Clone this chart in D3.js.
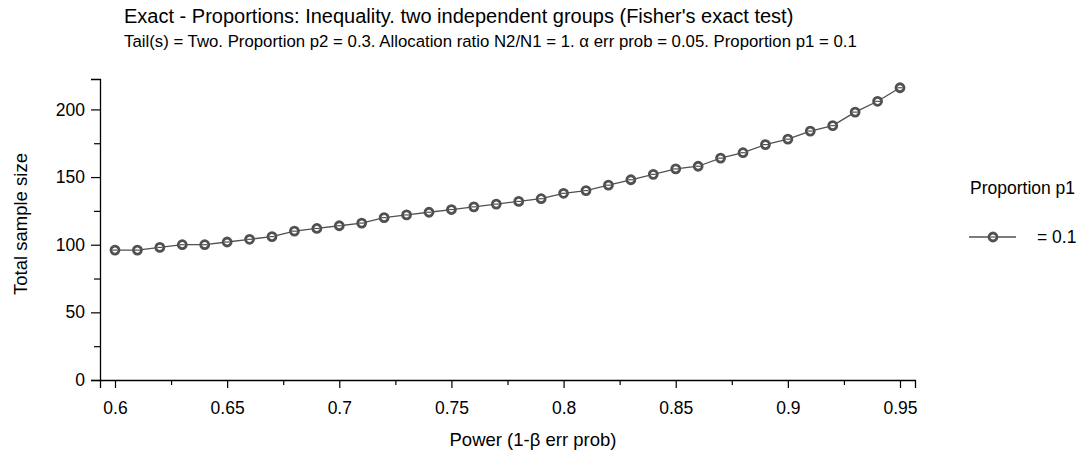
<!DOCTYPE html>
<html>
<head>
<meta charset="utf-8">
<script src="https://cdn.jsdelivr.net/npm/d3@7"></script>
<style>
  body { margin: 0; background: #fff; }
  svg text { font-family: "Liberation Sans", Arial, sans-serif; fill: #000; }
</style>
</head>
<body>
<div id="viz"></div>
<script>
// power values (x) and total sample sizes (y)
const power = [0.60, 0.61, 0.62, 0.63, 0.64, 0.65, 0.66, 0.67, 0.68, 0.69,
  0.70, 0.71, 0.72, 0.73, 0.74, 0.75, 0.76, 0.77, 0.78, 0.79,
  0.80, 0.81, 0.82, 0.83, 0.84, 0.85, 0.86, 0.87, 0.88, 0.89,
  0.90, 0.91, 0.92, 0.93, 0.94, 0.95];
const sampleSize = [96, 96, 98, 100, 100, 102, 104, 106, 110, 112,
  114, 116, 120, 122, 124, 126, 128, 130, 132, 134,
  138, 140, 144, 148, 152, 156, 158, 164, 168, 174,
  178, 184, 188, 198, 206, 216];
const xTicks = [0.6, 0.65, 0.7, 0.75, 0.8, 0.85, 0.9, 0.95];
const xMinor = [0.625, 0.675, 0.725, 0.775, 0.825, 0.875, 0.925];
const yTicks = [0, 50, 100, 150, 200];
const yMinor = [25, 75, 125, 175];
const legendLabels = ['= 0.1'];

const width = 1086, height = 452;
const ink = '#505050';

const svg = d3.select('#viz').append('svg')
  .attr('width', width)
  .attr('height', height);

const x = d3.scaleLinear()
  .domain([0.6 - 0.35 * 0.0191, 0.95 + 0.35 * 0.0191])
  .range([100, 915]);
const y = d3.scaleLinear()
  .domain([0, d3.max(sampleSize) * 1.03])
  .range([380, 79]);

// titles
svg.append('text')
  .attr('x', 124).attr('y', 23)
  .attr('font-size', '20px')
  .text("Exact - Proportions: Inequality. two independent groups (Fisher's exact test)");
svg.append('text')
  .attr('x', 124).attr('y', 47)
  .attr('font-size', '16.8px')
  .text('Tail(s) = Two. Proportion p2 = 0.3. Allocation ratio N2/N1 = 1. α err prob = 0.05. Proportion p1 = 0.1');

// axes
svg.append('g')
  .attr('transform', 'translate(0,380)')
  .call(d3.axisBottom(x).tickValues(xTicks).tickFormat(d3.format('')).tickSize(8).tickPadding(14));
svg.append('g')
  .attr('transform', 'translate(0,380)')
  .call(d3.axisBottom(x).tickValues(xMinor).tickFormat('').tickSize(5))
  .select('.domain').remove();

svg.append('g')
  .attr('transform', 'translate(100,0)')
  .call(d3.axisLeft(y).tickValues(yTicks).tickSize(9).tickPadding(6));
svg.append('g')
  .attr('transform', 'translate(100,0)')
  .call(d3.axisLeft(y).tickValues(yMinor).tickFormat('').tickSize(6))
  .select('.domain').remove();

svg.selectAll('.domain').attr('stroke', '#000').attr('stroke-width', 1.3);
svg.selectAll('.tick line').attr('stroke', '#000').attr('stroke-width', 1.2);
svg.selectAll('.tick text')
  .attr('font-size', '17.5px')
  .attr('font-family', '"Liberation Sans", Arial, sans-serif')
  .attr('fill', '#000');

// axis labels
svg.append('text')
  .attr('x', 533).attr('y', 446)
  .attr('text-anchor', 'middle')
  .attr('font-size', '18.5px')
  .text('Power (1-β err prob)');
svg.append('text')
  .attr('transform', 'translate(27,224) rotate(-90)')
  .attr('text-anchor', 'middle')
  .attr('font-size', '18.5px')
  .text('Total sample size');

// series
const pts = power.map((p, i) => [p, sampleSize[i]]);
svg.append('path')
  .datum(pts)
  .attr('fill', 'none')
  .attr('stroke', ink)
  .attr('stroke-width', 1.3)
  .attr('d', d3.line().x(d => x(d[0])).y(d => y(d[1])));

const marker = (sel) => {
  sel.append('circle')
    .attr('r', 4)
    .attr('fill', '#fff')
    .attr('stroke', ink)
    .attr('stroke-width', 2.8);
  sel.append('line')
    .attr('x1', -2.5).attr('x2', 2.5)
    .attr('stroke', ink)
    .attr('stroke-width', 1.2);
};

svg.append('g').selectAll('g')
  .data(pts)
  .join('g')
  .attr('transform', d => `translate(${x(d[0])},${y(d[1])})`)
  .call(marker);

// legend
const legend = svg.append('g');
legend.append('text')
  .attr('x', 970).attr('y', 194)
  .attr('font-size', '17.5px')
  .text('Proportion p1');
legendLabels.forEach((lab, i) => {
  const ly = 237 + i * 30;
  legend.append('line')
    .attr('x1', 969).attr('x2', 1016)
    .attr('y1', ly).attr('y2', ly)
    .attr('stroke', ink).attr('stroke-width', 1.3);
  legend.append('g')
    .attr('transform', `translate(993,${ly})`)
    .call(marker);
  legend.append('text')
    .attr('x', 1037).attr('y', ly + 6)
    .attr('font-size', '17.5px')
    .text(lab);
});
</script>
</body>
</html>
